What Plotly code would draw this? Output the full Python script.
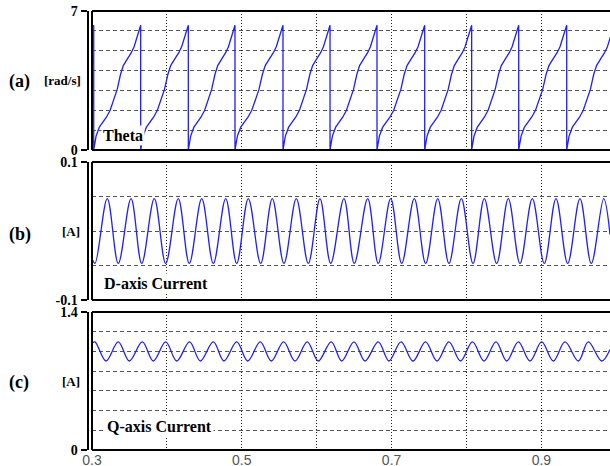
import plotly.graph_objects as go

W, H = 610, 466

# ---------------- data ----------------
# (a) Theta: instants at which the angle wraps from 2*pi back to 0  [s]
theta_reset_t = [0.3023, 0.3650, 0.4286, 0.4909, 0.5550, 0.6178, 0.6805,
                 0.7442, 0.8069, 0.8697, 0.9338, 0.9970]
# shape of one theta cycle (fraction of cycle -> rad)
theta_cycle_frac = [0.0, 0.05, 0.12, 0.20, 0.27, 0.35, 0.42, 0.50,
                    0.57, 0.63, 0.72, 0.80, 0.86, 0.93, 1.0]
theta_cycle_val = [0.0, 0.70, 1.15, 1.40, 1.65, 2.00, 2.50, 3.05,
                   3.80, 4.25, 4.60, 4.90, 5.20, 5.70, 6.28]
theta_start = (0.3, 6.15)

# (b) D-axis current: times of maxima / minima [s] and their levels [A]
d_peak_t = [0.3204, 0.3521, 0.3832, 0.4152, 0.4465, 0.4785, 0.5087, 0.5407,
            0.5728, 0.6044, 0.6364, 0.6681, 0.6988, 0.7303, 0.7616, 0.7931,
            0.8238, 0.8558, 0.8879, 0.9195, 0.9515, 0.9832]
d_trough_t = [0.3040, 0.3351, 0.3664, 0.3984, 0.4299, 0.4620, 0.4932, 0.5252,
              0.5563, 0.5888, 0.6187, 0.6502, 0.6822, 0.7135, 0.7455, 0.7766,
              0.8087, 0.8403, 0.8714, 0.9039, 0.9351, 0.9666]
d_peak, d_trough = 0.047, -0.047
d_ends = [(0.3, -0.040), (0.9916, -0.005)]

# (c) Q-axis current: times of maxima / minima [s] and their levels [A]
q_peak_t = [0.3040, 0.3351, 0.3672, 0.3984, 0.4303, 0.4620, 0.4932, 0.5247,
            0.5559, 0.5874, 0.6194, 0.6498, 0.6822, 0.7126, 0.7453, 0.7766,
            0.8080, 0.8394, 0.8692, 0.9004, 0.9315, 0.9626]
q_trough_t = [0.3187, 0.3498, 0.3818, 0.4131, 0.4446, 0.4762, 0.5079, 0.5394,
              0.5710, 0.6021, 0.6334, 0.6645, 0.6965, 0.7286, 0.7606, 0.7920,
              0.8234, 0.8537, 0.8848, 0.9159, 0.9493, 0.9805]
q_peak, q_trough = 1.097, 0.903
q_ends = [(0.3, 1.085), (0.9916, 1.02)]

x_range = [0.3, 0.9916]
x_tickvals = [0.3, 0.5, 0.7, 0.9]
x_ticktext = ["0.3", "0.5", "0.7", "0.9"]

# ---------------- build series ----------------
tx = [theta_start[0], theta_reset_t[0]]
ty = [theta_start[1], theta_cycle_val[-1]]
for r0, r1 in zip(theta_reset_t[:-1], theta_reset_t[1:]):
    for f, v in zip(theta_cycle_frac, theta_cycle_val):
        tx.append(r0 + f * (r1 - r0))
        ty.append(v)


def merge(peaks, troughs, hi, lo, ends):
    pts = [(t, hi) for t in peaks] + [(t, lo) for t in troughs] + list(ends)
    pts.sort()
    return [p[0] for p in pts], [p[1] for p in pts]


dx, dy = merge(d_peak_t, d_trough_t, d_peak, d_trough, d_ends)
qx, qy = merge(q_peak_t, q_trough_t, q_peak, q_trough, q_ends)

# ---------------- figure ----------------
BLUE = "#1f1fff"
fig = go.Figure()
fig.add_trace(go.Scatter(x=tx, y=ty, mode="lines", line=dict(color=BLUE, width=1.3),
                         xaxis="x", yaxis="y", hoverinfo="skip"))
fig.add_trace(go.Scatter(x=dx, y=dy, mode="lines", line=dict(color=BLUE, width=1.3, shape="spline"),
                         xaxis="x2", yaxis="y2", hoverinfo="skip"))
fig.add_trace(go.Scatter(x=qx, y=qy, mode="lines", line=dict(color=BLUE, width=1.3, shape="spline"),
                         xaxis="x3", yaxis="y3", hoverinfo="skip"))

xdom = [92 / W, 1.0]
ydoms = [[1 - 150 / H, 1 - 11 / H], [1 - 300 / H, 1 - 162 / H], [1 - 450 / H, 1 - 312 / H]]
yranges = [[0, 7], [-0.1, 0.1], [0, 1.4]]
ytickvals = [[0, 7], [-0.1, 0.1], [0, 1.4]]
yticktext = [["0", "7"], ["-0.1", "0.1"], ["0", "1.4"]]
yminor = [dict(dtick=1, tick0=0), dict(dtick=0.05, tick0=-0.1), dict(dtick=0.2, tick0=0)]

serif_b = dict(family="Liberation Serif", color="black", weight="bold")
layout = dict(
    width=W, height=H, margin=dict(l=0, r=0, t=0, b=0),
    paper_bgcolor="white", plot_bgcolor="white", showlegend=False,
    template="none",
)
for i in range(3):
    sfx = "" if i == 0 else str(i + 1)
    layout["xaxis" + sfx] = dict(
        domain=xdom, range=x_range, anchor="y" + sfx, automargin=False,
        tickvals=x_tickvals, ticktext=x_ticktext, showticklabels=(i == 2),
        ticks="", showline=False, zeroline=False,
        tickfont=dict(family="Liberation Sans", size=14, color="#555555"),
        showgrid=True, gridcolor="#222222", griddash="1px,2px", gridwidth=1,
        minor=dict(dtick=0.1, tick0=0.3, showgrid=True, gridcolor="#222222",
                   griddash="1px,2px", gridwidth=1, ticks=""),
    )
    layout["yaxis" + sfx] = dict(
        domain=ydoms[i], range=yranges[i], anchor="free", position=87.5 / W,
        automargin=False, showline=True, linecolor="black", linewidth=2,
        ticks="outside", ticklen=6, tickwidth=2, tickcolor="black",
        tickvals=ytickvals[i], ticktext=yticktext[i],
        tickfont=dict(size=14, **serif_b),
        showgrid=False, zeroline=False,
        minor=dict(showgrid=True, gridcolor="#555555", griddash="4px,3px",
                   gridwidth=1, ticks="", **yminor[i]),
    )
fig.update_layout(**layout)

# frame of each panel (top, bottom, left)
shapes = []
for i in range(3):
    sfx = "" if i == 0 else str(i + 1)
    xr, yr = "x" + sfx + " domain", "y" + sfx + " domain"
    for (x0, y0, x1, y1) in [(0, 1, 1, 1), (0, 0, 1, 0), (0, 0, 0, 1)]:
        shapes.append(dict(type="line", xref=xr, yref=yr, x0=x0, y0=y0, x1=x1, y1=y1,
                           line=dict(color="black", width=2), layer="above"))
fig.update_layout(shapes=shapes)

ann = []


def add(text, xp, yp, size, xanchor="left", bg=None):
    d = dict(text=text, xref="paper", yref="paper", x=xp / W, y=1 - yp / H,
             xanchor=xanchor, yanchor="middle", showarrow=False,
             font=dict(size=size, **serif_b))
    if bg:
        d.update(bgcolor=bg, borderpad=1)
    ann.append(d)


add("(a)", 7, 81.7, 18)
add("[rad/s]", 82.5, 81, 13, "right")
add("(b)", 7, 234, 18)
add("[A]", 82, 231, 13, "right")
add("(c)", 7, 382.3, 18)
add("[A]", 82, 381.7, 13, "right")
add("Theta", 101, 135, 16, bg="white")
add("D-axis Current", 102, 283, 16, bg="white")
add("Q-axis Current", 105, 426.5, 16, bg="white")
fig.update_layout(annotations=ann)

fig.write_html(
    "out.html",
    config={"displayModeBar": False, "staticPlot": True},
    post_script="document.body.style.margin='0';document.body.style.overflow='hidden';",
)
